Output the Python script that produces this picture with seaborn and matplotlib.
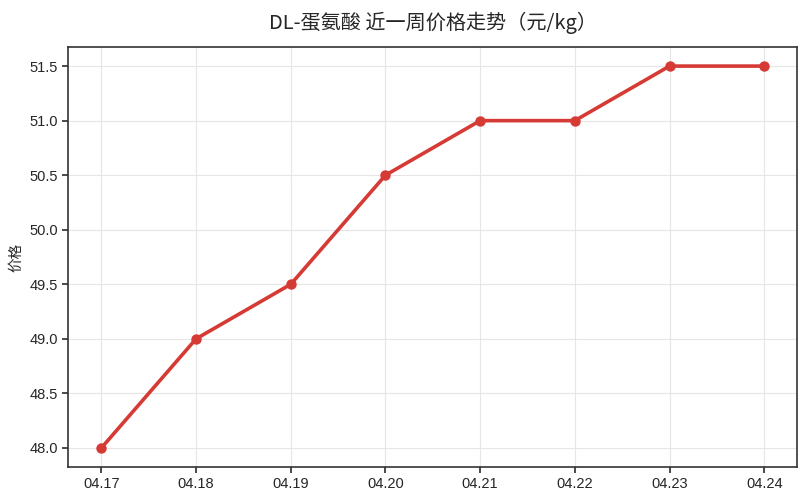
import seaborn as sns
import matplotlib.pyplot as plt
import pandas as pd

dates = ['04.17', '04.18', '04.19', '04.20', '04.21', '04.22', '04.23', '04.24']
prices = [48.0, 49.0, 49.5, 50.5, 51.0, 51.0, 51.5, 51.5]

sns.set_theme(style='whitegrid')
plt.rcParams['font.family'] = ['Noto Sans CJK SC', 'DejaVu Sans']

df = pd.DataFrame({'date': dates, 'price': prices})

fig, ax = plt.subplots(figsize=(8.03, 5.0), dpi=100)
sns.lineplot(data=df, x='date', y='price', ax=ax, color='#d63a35',
             linewidth=2.6, marker='o', markersize=7.5, markeredgewidth=0)

ax.set_title('DL-蛋氨酸 近一周价格走势（元/kg）', fontsize=14.5, pad=13)
ax.set_xlabel('')
ax.set_ylabel('价格', fontsize=10.5)
ax.set_yticks([48.0, 48.5, 49.0, 49.5, 50.0, 50.5, 51.0, 51.5])
ax.set_yticklabels(['48.0', '48.5', '49.0', '49.5', '50.0', '50.5', '51.0', '51.5'])
ax.tick_params(axis='both', labelsize=10.5, length=4, color='#333333', left=True, bottom=True)
for lbl in ax.get_xticklabels() + ax.get_yticklabels():
    lbl.set_fontfamily('Liberation Sans')

ax.grid(True, color='#e6e6e6', linewidth=0.8)
for s in ax.spines.values():
    s.set_color('#333333')
    s.set_linewidth(1.2)

plt.subplots_adjust(left=0.085, right=0.993, top=0.906, bottom=0.066)
plt.savefig('out.png', dpi=100)
